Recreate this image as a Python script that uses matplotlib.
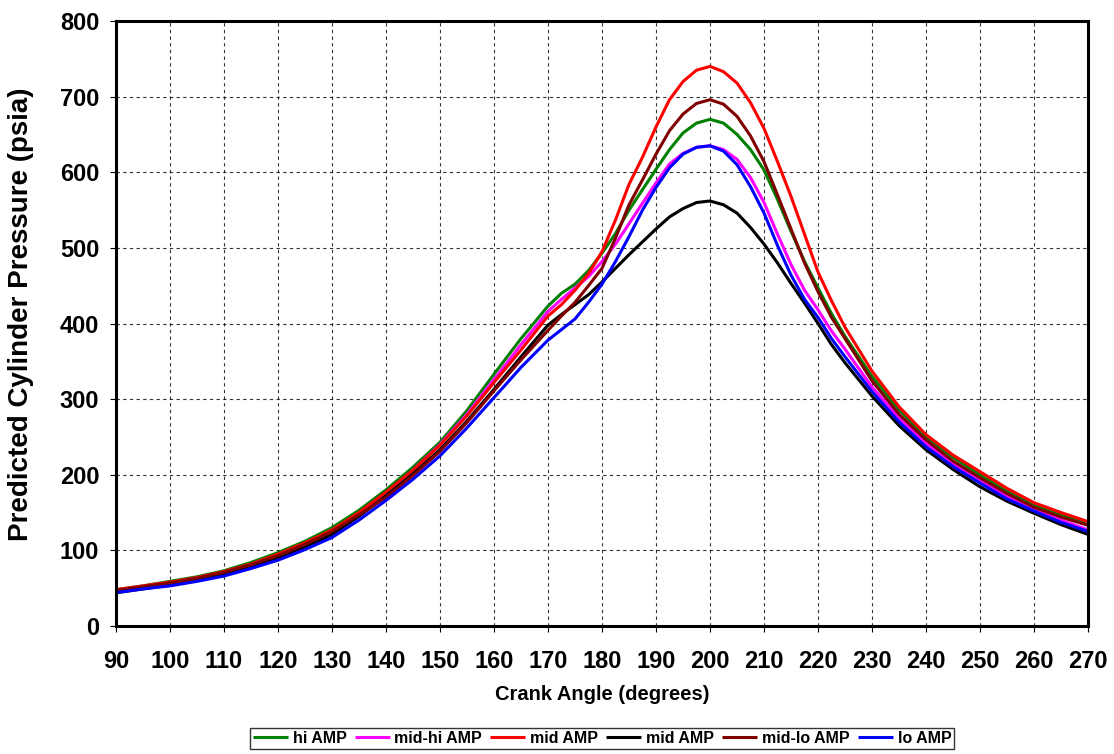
import numpy as np
import matplotlib
matplotlib.use("Agg")
import matplotlib.pyplot as plt

plt.rcParams['font.family'] = ['Liberation Sans', 'DejaVu Sans']
plt.rcParams['font.weight'] = 'bold'

# crank angle (degrees): 5 deg steps, 2.5 deg steps around the peak
angle = [90, 95, 100, 105, 110, 115, 120, 125, 130, 135, 140, 145, 150, 155, 160, 165,
         170, 172.5, 175, 177.5, 180, 182.5, 185, 187.5, 190, 192.5, 195, 197.5,
         200, 202.5, 205, 207.5, 210, 212.5, 215, 217.5, 220, 222.5, 225,
         230, 235, 240, 245, 250, 255, 260, 265, 270]

# predicted cylinder pressure (psia)
hi_amp = [48, 53, 59, 65, 73, 84, 97, 112, 130, 153, 180, 210, 243, 285, 333, 380,
          423, 440, 452, 470, 493, 519, 550, 577, 604, 630, 652, 665,
          670, 665, 650, 630, 603, 564, 522, 482, 447, 413, 383,
          330, 286, 250, 223, 200, 178, 160, 147, 135]
mid_hi_amp = [46, 51, 56, 62, 70, 80, 93, 108, 126, 149, 176, 206, 240, 280, 326, 372,
              416, 432, 447, 462, 482, 505, 532, 559, 586, 611, 625, 633,
              635, 630, 617, 593, 560, 518, 478, 444, 418, 390, 366,
              316, 275, 242, 215, 193, 172, 155, 140, 127]
mid_amp_red = [48, 53, 58, 64, 72, 82, 95, 110, 127, 150, 177, 206, 239, 278, 322, 365,
               410, 425, 444, 466, 495, 537, 584, 620, 660, 696, 720, 735,
               740, 733, 718, 692, 658, 614, 568, 518, 468, 430, 395,
               337, 290, 253, 226, 204, 182, 163, 150, 138]
mid_amp_black = [44, 49, 54, 60, 68, 78, 90, 104, 121, 145, 172, 201, 233, 271, 313, 356,
                 398, 412, 425, 438, 455, 473, 491, 508, 525, 541, 552, 560,
                 562, 557, 546, 527, 505, 480, 453, 427, 400, 372, 348,
                 304, 265, 233, 207, 184, 165, 149, 134, 121]
mid_lo_amp = [47, 52, 57, 63, 71, 81, 93, 108, 125, 147, 170, 199, 231, 269, 311, 352,
              391, 410, 428, 450, 473, 513, 557, 590, 624, 655, 677, 691,
              696, 690, 674, 648, 614, 570, 525, 480, 442, 408, 380,
              324, 280, 246, 218, 196, 175, 157, 144, 133]
lo_amp = [44, 49, 53, 59, 66, 76, 87, 101, 117, 140, 166, 194, 225, 262, 302, 342,
          378, 392, 406, 428, 452, 482, 515, 550, 580, 606, 624, 633,
          635, 628, 610, 581, 546, 503, 464, 432, 408, 380, 356,
          310, 270, 237, 211, 189, 168, 152, 137, 125]

series = [
    ("hi AMP", hi_amp, "#008000"),
    ("mid-hi AMP", mid_hi_amp, "#ff00ff"),
    ("mid AMP", mid_amp_red, "#ff0000"),
    ("mid AMP", mid_amp_black, "#000000"),
    ("mid-lo AMP", mid_lo_amp, "#800000"),
    ("lo AMP", lo_amp, "#0000ff"),
]

fig = plt.figure(figsize=(11.14, 7.54), dpi=100)
ax = fig.add_axes([0.1041, 0.1698, 0.8726, 0.8023])

for name, vals, col in series:
    ax.plot(angle, vals, color=col, lw=2.2, label=name,
            solid_joinstyle='round', solid_capstyle='butt')

ax.set_xlim(90, 270)
ax.set_ylim(0, 800)
ax.set_xticks(np.arange(90, 271, 10))
ax.set_yticks(np.arange(0, 801, 100))
ax.grid(True, color='black', linestyle=(0, (3, 3)), lw=0.8, alpha=0.8)
ax.set_axisbelow(True)

for s in ax.spines.values():
    s.set_linewidth(2.2)
    s.set_color('black')

ax.tick_params(axis='x', direction='out', length=4, width=0.8, pad=13, labelsize=17)
ax.tick_params(axis='y', direction='out', length=4, width=0.8, pad=8, labelsize=17)
for lab in ax.get_xticklabels() + ax.get_yticklabels():
    lab.set_fontweight('bold')

ax.set_xlabel("Crank Angle (degrees)", fontsize=14.5, fontweight='bold', labelpad=9)
ax.set_ylabel("Predicted Cylinder Pressure (psia)", fontsize=20, fontweight='bold')
ax.yaxis.set_label_coords(-0.084, 0.515)

leg = ax.legend(loc='upper center', bbox_to_anchor=(0.5, -0.168), ncol=6, frameon=True,
                fancybox=False, edgecolor='black', fontsize=11.5, handlelength=2.2,
                handletextpad=0.3, columnspacing=0.5, borderpad=0.2, borderaxespad=0)
leg.get_frame().set_linewidth(1.0)
for t in leg.get_texts():
    t.set_fontweight('bold')

fig.savefig("out.png", dpi=100)
